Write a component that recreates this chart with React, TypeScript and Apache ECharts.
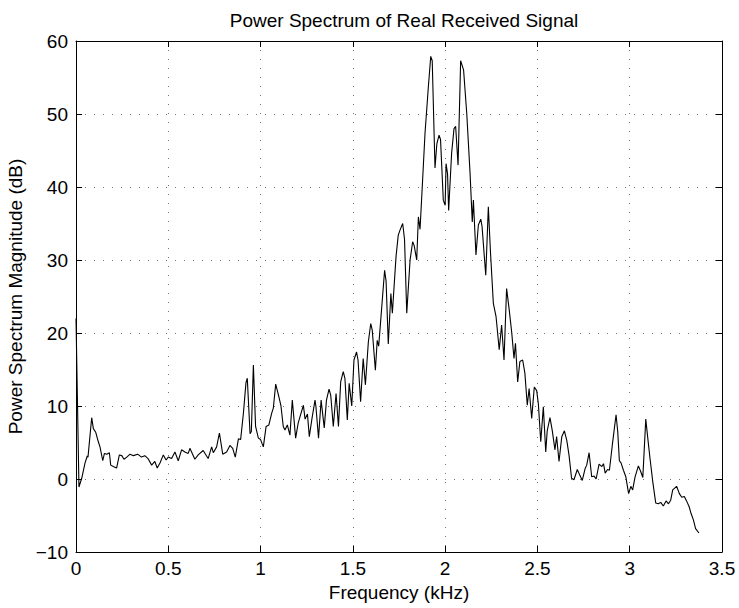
import React, { useEffect, useRef } from "react";
import * as echarts from "echarts";

const chartTitle = "Power Spectrum of Real Received Signal";
const xAxisName = "Frequency (kHz)";
const yAxisName = "Power Spectrum Magnitude (dB)";

const xTicks = [0, 0.5, 1, 1.5, 2, 2.5, 3, 3.5];
const yTicks = [-10, 0, 10, 20, 30, 40, 50, 60];

const frequencyKHz = [
  0.0, 0.016, 0.031, 0.049, 0.061, 0.065, 0.085, 0.094, 0.107, 0.121, 0.13, 0.145, 0.154, 0.167, 0.181, 0.188,
  0.202, 0.22, 0.235, 0.248, 0.26, 0.275, 0.293, 0.311, 0.334, 0.355, 0.373, 0.39, 0.41, 0.427, 0.44, 0.455,
  0.473, 0.488, 0.5, 0.518, 0.536, 0.554, 0.572, 0.59, 0.608, 0.617, 0.644, 0.662, 0.689, 0.716, 0.735, 0.744,
  0.762, 0.777, 0.795, 0.816, 0.834, 0.849, 0.863, 0.88, 0.892, 0.907, 0.921, 0.928, 0.943, 0.95, 0.961, 0.973,
  0.988, 1.0, 1.015, 1.03, 1.045, 1.06, 1.069, 1.082, 1.097, 1.11, 1.123, 1.132, 1.145, 1.159, 1.172, 1.19,
  1.204, 1.219, 1.232, 1.241, 1.254, 1.264, 1.278, 1.295, 1.3, 1.314, 1.328, 1.345, 1.357, 1.371, 1.38, 1.394,
  1.409, 1.422, 1.434, 1.448, 1.457, 1.47, 1.48, 1.494, 1.506, 1.52, 1.528, 1.542, 1.556, 1.568, 1.584, 1.597,
  1.605, 1.622, 1.632, 1.64, 1.672, 1.68, 1.692, 1.706, 1.714, 1.734, 1.746, 1.757, 1.77, 1.78, 1.792, 1.81,
  1.824, 1.832, 1.846, 1.855, 1.864, 1.878, 1.891, 1.909, 1.922, 1.93, 1.945, 1.955, 1.967, 1.975, 1.99, 2.0,
  2.005, 2.013, 2.019, 2.035, 2.048, 2.057, 2.07, 2.084, 2.1, 2.117, 2.135, 2.147, 2.153, 2.167, 2.18, 2.193,
  2.2, 2.22, 2.234, 2.246, 2.261, 2.276, 2.293, 2.306, 2.319, 2.333, 2.347, 2.361, 2.373, 2.381, 2.393, 2.405,
  2.42, 2.432, 2.445, 2.455, 2.469, 2.483, 2.496, 2.505, 2.518, 2.532, 2.545, 2.553, 2.568, 2.58, 2.595, 2.604,
  2.617, 2.632, 2.646, 2.659, 2.671, 2.685, 2.698, 2.716, 2.73, 2.743, 2.758, 2.767, 2.78, 2.794, 2.807, 2.818,
  2.834, 2.849, 2.858, 2.867, 2.88, 2.89, 2.906, 2.926, 2.935, 2.944, 2.953, 2.966, 2.979, 2.994, 3.006, 3.016,
  3.029, 3.047, 3.06, 3.071, 3.087, 3.097, 3.11, 3.125, 3.141, 3.155, 3.168, 3.182, 3.197, 3.21, 3.222, 3.233,
  3.254, 3.269, 3.282, 3.296, 3.308, 3.322, 3.332, 3.345, 3.357, 3.375,
];

const magnitudeDb = [
  22, -1.1, 0.1, 2.2, 3.15, 3.0, 8.4, 6.9, 6.4, 5.1, 4.4, 2.5, 3.5, 3.4, 3.6, 1.9,
  1.7, 1.5, 3.3, 3.2, 2.7, 3.0, 3.4, 3.2, 3.4, 3.0, 3.2, 2.8, 1.9, 2.4, 1.5, 2.2,
  3.3, 2.6, 3.0, 2.8, 3.7, 2.5, 4.0, 3.7, 3.5, 4.2, 2.7, 3.3, 3.9, 2.8, 4.4, 3.6,
  4.4, 6.3, 3.4, 3.7, 4.6, 4.2, 3.0, 5.5, 5.4, 9.0, 13.2, 13.8, 6.2, 6.5, 15.6, 7.2,
  5.6, 5.4, 4.4, 7.2, 7.4, 9.0, 9.7, 13.0, 11.5, 10.1, 7.2, 6.7, 7.4, 6.0, 10.8, 5.6,
  7.7, 9.0, 10.1, 8.2, 8.9, 5.8, 8.2, 10.8, 9.9, 5.6, 10.8, 7.0, 10.8, 12.3, 11.5, 7.2,
  11.7, 7.2, 13.3, 14.7, 13.8, 8.1, 13.1, 10.0, 16.3, 17.4, 16.3, 10.6, 16.5, 12.9, 18.8, 21.3,
  20.4, 14.9, 19.0, 18.2, 28.6, 27.1, 18.5, 25.4, 22.7, 30.5, 33.4, 34.2, 35.0, 32.8, 22.7, 30.0,
  32.5, 32.0, 30.0, 35.9, 34.2, 41.0, 47.4, 53.7, 57.9, 57.3, 42.6, 45.9, 47.1, 46.5, 38.2, 37.5,
  43.2, 41.8, 36.8, 44.6, 48.0, 48.3, 43.0, 57.3, 56.0, 50.1, 41.9, 35.2, 38.2, 30.7, 34.8, 35.6,
  34.6, 27.9, 37.3, 30.9, 24.1, 22.2, 17.7, 21.1, 16.3, 26.1, 23.2, 20.0, 16.5, 18.6, 13.3, 16.1,
  16.3, 14.5, 10.1, 12.4, 8.3, 12.6, 12.1, 10.3, 5.1, 9.9, 3.7, 6.6, 8.4, 6.7, 4.0, 5.8,
  2.4, 5.8, 6.6, 5.3, 3.3, 0.1, -0.1, 1.3, 0.5, -0.2, 1.4, 1.9, 3.6, 0.3, 0.4, 0.0,
  2.05, 1.7, 2.1, 0.8, 1.3, 1.2, 4.7, 8.8, 6.5, 2.5, 2.2, 1.2, 0.3, -2.0, -1.0, -1.5,
  0.3, 1.8, 1.0, 0.2, 8.2, 5.8, 2.8, -0.4, -3.3, -3.4, -3.2, -3.7, -3.0, -3.4, -2.9, -1.5,
  -1.0, -2.0, -2.5, -2.4, -3.0, -3.8, -4.7, -5.6, -6.8, -7.4,
];

const FONT = "'Liberation Sans', Arial, Helvetica, sans-serif";

export default function App() {
  const ref = useRef<HTMLDivElement>(null);

  useEffect(() => {
    if (!ref.current) return;
    const chart = echarts.init(ref.current, null, { renderer: "svg" });
    const points = frequencyKHz.map((f, i) => [f, magnitudeDb[i]]);
    const fmt = (v: number) => String(v).replace("-", "\u2212");
    const gridLine = { show: true, lineStyle: { color: "#777", width: 1, type: [1, 8] as any } };
    const axisLine = { show: true, onZero: false, lineStyle: { color: "#000", width: 1 } };
    const tick = { show: true, inside: true, length: 6, lineStyle: { color: "#000", width: 1 } };
    const labelStyle = { color: "#000", fontSize: 19, fontFamily: FONT };

    chart.setOption({
      animation: false,
      backgroundColor: "#fff",
      title: {
        text: chartTitle,
        left: 399,
        top: 6,
        textAlign: "center",
        textStyle: { color: "#000", fontSize: 19, fontWeight: "normal", fontFamily: FONT },
      },
      grid: { left: 76, right: 17, top: 41, bottom: 56, containLabel: false, outerBoundsMode: "none" },
      xAxis: [
        {
          type: "value",
          min: xTicks[0],
          max: xTicks[xTicks.length - 1],
          interval: 0.5,
          position: "bottom",
          name: xAxisName,
          nameLocation: "middle",
          nameGap: 31,
          nameTextStyle: labelStyle,
          axisLine,
          axisTick: tick,
          axisLabel: { ...labelStyle, margin: 7, formatter: fmt },
          splitLine: gridLine,
        },
        {
          type: "value",
          min: xTicks[0],
          max: xTicks[xTicks.length - 1],
          interval: 0.5,
          position: "top",
          axisLine,
          axisTick: tick,
          axisLabel: { show: false },
          splitLine: { show: false },
        },
      ],
      yAxis: [
        {
          type: "value",
          min: yTicks[0],
          max: yTicks[yTicks.length - 1],
          interval: 10,
          position: "left",
          name: yAxisName,
          nameLocation: "middle",
          nameGap: 48,
          nameRotate: 90,
          nameTextStyle: labelStyle,
          axisLine,
          axisTick: tick,
          axisLabel: { ...labelStyle, margin: 8, formatter: fmt },
          splitLine: gridLine,
        },
        {
          type: "value",
          min: yTicks[0],
          max: yTicks[yTicks.length - 1],
          interval: 10,
          position: "right",
          axisLine,
          axisTick: tick,
          axisLabel: { show: false },
          splitLine: { show: false },
        },
      ],
      series: [
        {
          type: "line",
          data: points,
          xAxisIndex: 0,
          yAxisIndex: 0,
          symbol: "none",
          lineStyle: { color: "#000", width: 1.1 },
          clip: true,
        },
      ],
    });

    return () => chart.dispose();
  }, []);

  return (
    <div
      ref={ref}
      style={{ position: "fixed", left: 0, top: 0, width: 739, height: 608, background: "#fff" }}
    />
  );
}
